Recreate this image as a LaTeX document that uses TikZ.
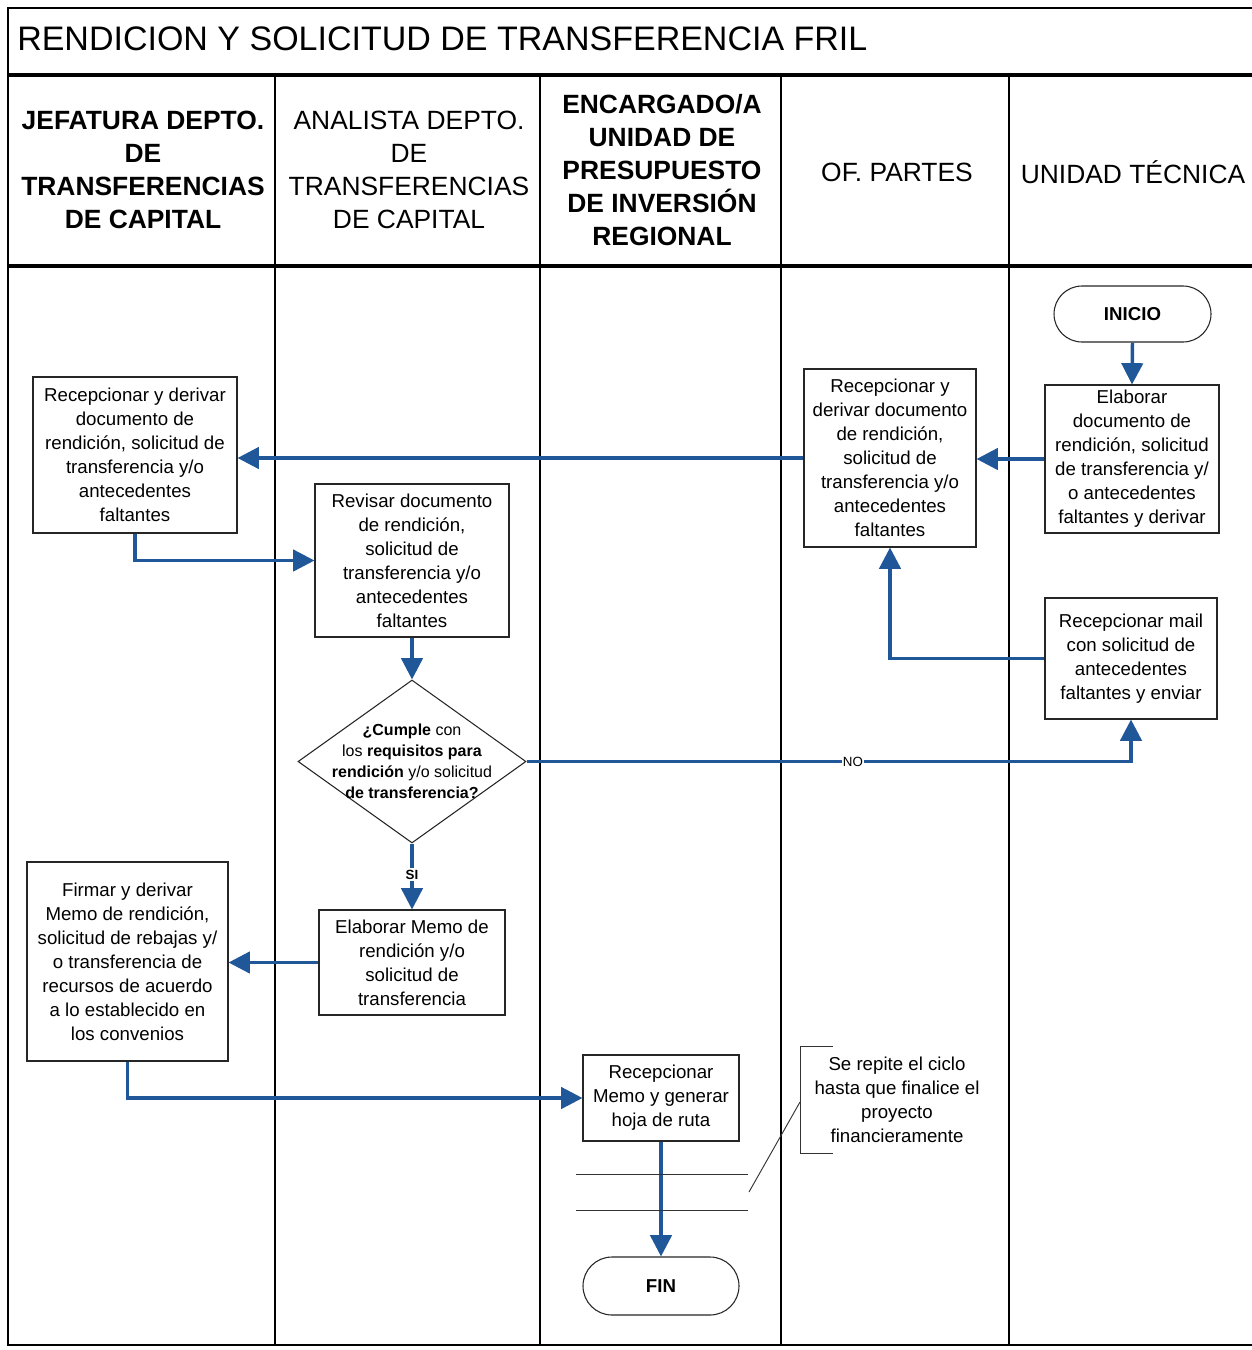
\documentclass[tikz,border=0pt]{standalone}
\usepackage{fontspec}
\setmainfont{Liberation Sans}
\usetikzlibrary{arrows.meta,shapes.geometric,shapes.misc}
\definecolor{flowblue}{HTML}{1F5799}
\begin{document}
\begin{tikzpicture}[x=0.75pt,y=-0.75pt,
  sz/.style 2 args={minimum width=#1*0.75pt,minimum height=#2*0.75pt},
  frameline/.style={line width=2.2pt,black},
  laneline/.style={line width=1.9pt,black},
  hdr/.style={align=center,inner sep=0pt,font=\fontsize{19.8}{24.75}\selectfont},
  hdrbold/.style={hdr,font=\fontsize{19.8}{24.75}\selectfont\bfseries},
  box/.style={draw=black!85,line width=0.8pt,fill=white,align=center,inner sep=0pt,
    font=\fontsize{14}{18}\selectfont},
  term/.style={rounded rectangle,draw=black!85,line width=0.8pt,fill=white,inner sep=0pt,
    font=\fontsize{14}{18}\selectfont\bfseries},
  dec/.style={diamond,draw=black!85,line width=0.8pt,fill=white,inner sep=0pt},
  arr/.style={draw=flowblue,line width=2.6pt,-{Triangle[length=16pt,width=16pt]}},
  flowlabel/.style={fill=white,inner sep=1pt,font=\fontsize{10}{12}\selectfont},
  thin/.style={line width=0.7pt,black!80}]
\useasboundingbox (0,0) rectangle (1252,1350);

% frame, title row and header row
\draw[frameline] (1252,8) -- (8,8) -- (8,1345) -- (1252,1345);
\draw[line width=3pt] (8,75) -- (1252,75);
\draw[line width=2.4pt] (8,266) -- (1252,266);
\foreach \lx in {275,540,781,1009}
  \draw[laneline] (\lx,75) -- (\lx,1345);

\node[anchor=west,inner sep=0pt,font=\fontsize{25.5}{30}\selectfont] (title) at (17,39)
  {RENDICION Y SOLICITUD DE TRANSFERENCIA FRIL};

\node[hdrbold] (h1) at (143,170) {JEFATURA DEPTO.\\DE\\TRANSFERENCIAS\\DE CAPITAL};
\node[hdr] (h2) at (409,170) {ANALISTA DEPTO.\\DE\\TRANSFERENCIAS\\DE CAPITAL};
\node[hdrbold] (h3) at (662,170) {ENCARGADO/A\\UNIDAD DE\\PRESUPUESTO\\DE INVERSIÓN\\REGIONAL};
\node[hdr] (h4) at (897,172) {OF. PARTES};
\node[hdr] (h5) at (1133,172) {UNIDAD TÉCNICA};

% process steps
\node[term,sz={157}{56}] (ini) at (1132.5,314) {INICIO};
\node[box,sz={174}{148}] (elab) at (1132,459)
  {Elaborar\\documento de\\rendición, solicitud\\de transferencia y/\\o antecedentes\\faltantes y derivar};
\node[box,sz={172}{178}] (ofp) at (890,458)
  {Recepcionar y\\derivar documento\\de rendición,\\solicitud de\\transferencia y/o\\antecedentes\\faltantes};
\node[box,sz={204}{156}] (jef) at (135,455)
  {Recepcionar y derivar\\documento de\\rendición, solicitud de\\transferencia y/o\\antecedentes\\faltantes};
\node[box,sz={194}{153}] (rev) at (412,560.5)
  {Revisar documento\\de rendición,\\solicitud de\\transferencia y/o\\antecedentes\\faltantes};
\node[dec,sz={228}{163}] (dec) at (412,761.5) {};
\node[align=center,inner sep=0pt,font=\fontsize{12}{15.75}\selectfont] (dectext) at (dec.center)
  {\textbf{¿Cumple} con\\los \textbf{requisitos para}\\\textbf{rendición} y/o solicitud\\\textbf{de transferencia?}};
\node[box,sz={172}{121}] (mail) at (1131,658.5)
  {Recepcionar mail\\con solicitud de\\antecedentes\\faltantes y enviar};
\node[box,sz={186}{105}] (memo) at (412,962.5)
  {Elaborar Memo de\\rendición y/o\\solicitud de\\transferencia};
\node[box,sz={201}{199}] (firma) at (127.5,961.5)
  {Firmar y derivar\\Memo de rendición,\\solicitud de rebajas y/\\o transferencia de\\recursos de acuerdo\\a lo establecido en\\los convenios};
\node[box,sz={156}{86}] (hoja) at (661,1098)
  {Recepcionar\\Memo y generar\\hoja de ruta};
\node[term,sz={156}{58}] (fin) at (661,1286) {FIN};

% connectors
\draw[arr] (ini.south) -- (elab.north);
\draw[arr] (elab.west) -- (elab.west -| ofp.east);
\draw[arr] (ofp.west) -- (ofp.west -| jef.east);
\draw[arr] (jef.south) |- (rev.west);
\draw[arr] (rev.south) -- (dec.north);
\draw[arr] (dec.south) -- node[flowlabel,pos=0.47,font=\fontsize{10}{12}\selectfont\bfseries] (si) {SI} (memo.north);
\draw[arr] (dec.east) -- node[flowlabel,pos=0.54] (no) {NO} (dec.east -| mail.south) -- (mail.south);
\draw[arr] (mail.west) -| (ofp.south);
\draw[arr] (memo.west) -- (memo.west -| firma.east);
\draw[arr] (firma.south) |- (hoja.west);
\draw[arr] (hoja.south) -- (fin.north);

% repeat-cycle annotation
\coordinate (mA) at (576,1174);
\coordinate (mB) at (748,1174);
\coordinate (mC) at (576,1210);
\coordinate (mD) at (748,1210);
\coordinate (ptr) at (749,1192);
\coordinate (brk) at (800,1102);
\draw[thin] (mA) -- (mB);
\draw[thin] (mC) -- (mD);
\node[align=center,inner sep=0pt,font=\fontsize{14}{18}\selectfont] (note) at (897,1100)
  {Se repite el ciclo\\hasta que finalice el\\proyecto\\financieramente};
\draw[thin] (833,1046) -- (800,1046) -- (800,1153) -- (833,1153);
\draw[thin] (brk) -- (ptr);
\end{tikzpicture}
\end{document}
